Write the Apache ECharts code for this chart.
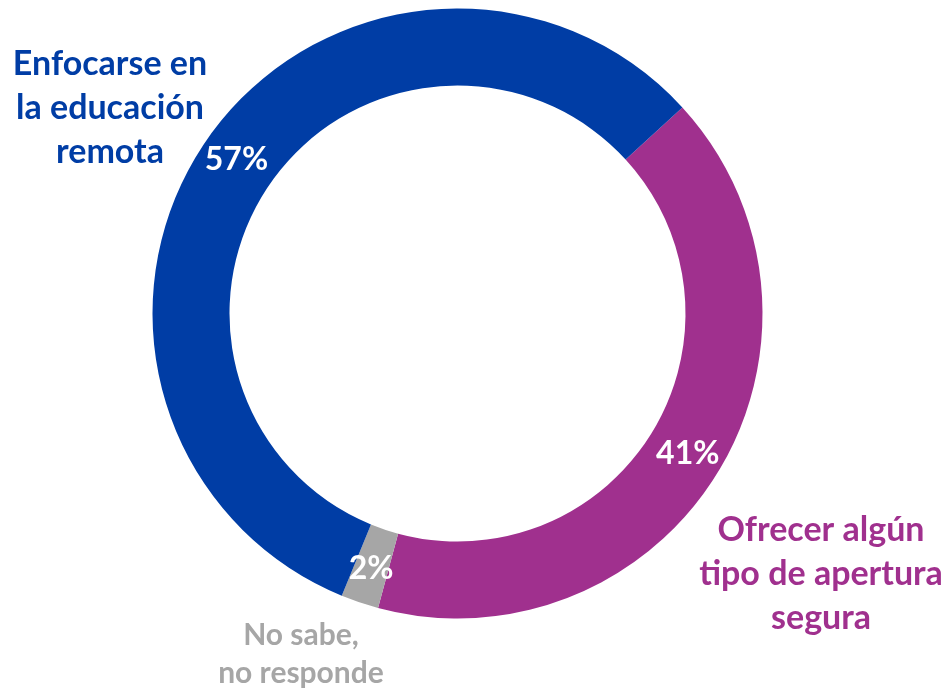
<!DOCTYPE html>
<html>
<head>
<meta charset="utf-8">
<script src="https://cdn.jsdelivr.net/npm/echarts@6/dist/echarts.min.js"></script>
<style>
html,body{margin:0;padding:0;background:#fff;}
#chart{width:951px;height:691px;}
</style>
</head>
<body>
<div id="chart"></div>
<script>
// Data (clockwise order starting at the blue/purple boundary)
var categories = ['Ofrecer algún\ntipo de apertura\nsegura', 'No sabe,\nno responde', 'Enfocarse en\nla educación\nremota'];
var values = [41, 2, 57];
var colors = ['#A0308E', '#A6A6A6', '#003DA5'];

// Layout of the name labels (anchor = centre of text block)
var namePos = [
  {x: 821, y: 574, lh: 44, fs: 34},
  {x: 301, y: 654, lh: 38, fs: 30},
  {x: 110, y: 108, lh: 44, fs: 34}
];

var FONT = 'Lato, "Noto Sans", sans-serif';

var pieData = categories.map(function (c, i) {
  return { name: c, value: values[i], itemStyle: { color: colors[i] } };
});
var nameData = categories.map(function (c, i) {
  return {
    name: c, value: values[i],
    label: { color: colors[i], lineHeight: namePos[i].lh, fontSize: namePos[i].fs }
  };
});

var chart = echarts.init(document.getElementById('chart'), null, {renderer: 'canvas'});
chart.setOption({
  animation: false,
  backgroundColor: '#ffffff',
  series: [
    {
      type: 'pie',
      z: 1,
      silent: true,
      center: [457.5, 313.5],
      radius: [228, 305],
      startAngle: 42.5,
      clockwise: true,
      itemStyle: { color: 'rgba(0,0,0,0)', borderWidth: 0 },
      label: {
        show: true,
        position: 'inside',
        formatter: '{b}',
        fontFamily: FONT,
        fontWeight: 'bold',
        align: 'center',
        overflow: 'none'
      },
      labelLine: { show: false },
      emphasis: { disabled: true },
      labelLayout: function (p) {
        var pos = namePos[p.dataIndex];
        return { x: pos.x, y: pos.y, align: 'center', verticalAlign: 'middle' };
      },
      data: nameData
    },
    {
      type: 'pie',
      z: 2,
      silent: true,
      center: [457.5, 313.5],
      radius: [228, 305],
      startAngle: 42.5,
      clockwise: true,
      itemStyle: { borderWidth: 0 },
      label: {
        show: true,
        position: 'inside',
        formatter: '{c}%',
        color: '#ffffff',
        fontFamily: FONT,
        fontWeight: 'bold',
        fontSize: 32
      },
      labelLine: { show: false },
      emphasis: { disabled: true },
      data: pieData
    }
  ]
});
</script>
</body>
</html>
